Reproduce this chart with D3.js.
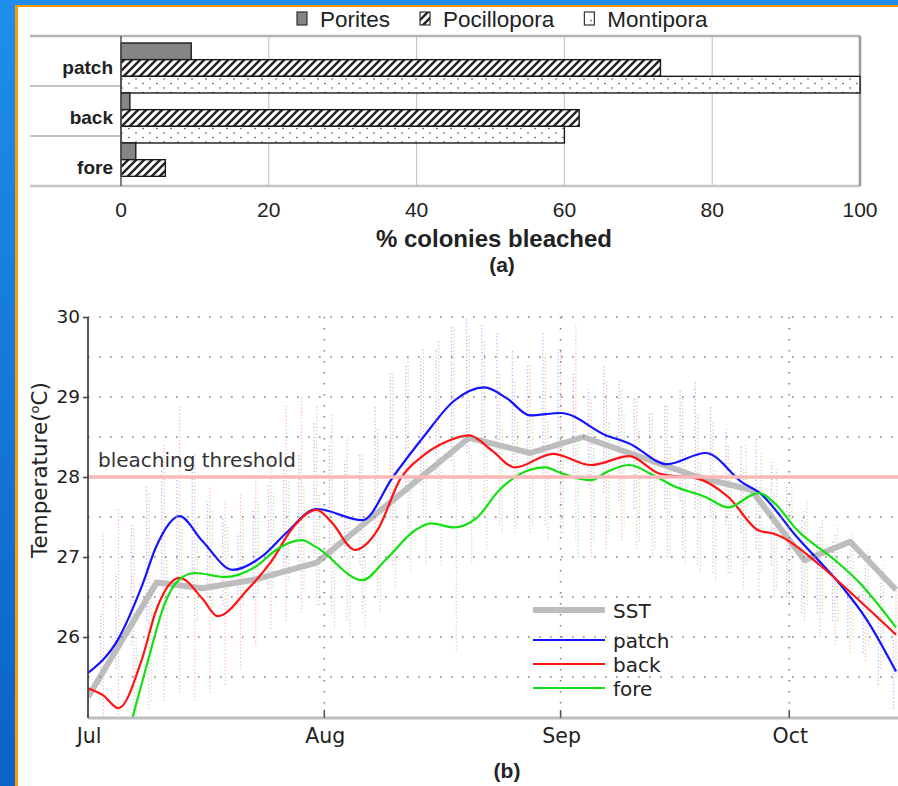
<!DOCTYPE html>
<html>
<head>
<meta charset="utf-8">
<script src="https://cdn.jsdelivr.net/npm/d3@7"></script>
<style>
  html, body { margin: 0; padding: 0; background: #fff; }
  svg { display: block; }
</style>
</head>
<body>
<svg id="fig" width="898" height="786"></svg>
<script>
// ---------- Panel (a): bleaching by reef zone ----------
const sites = ["patch", "back", "fore"];
const genera = ["Porites", "Pocillopora", "Montipora"];
const porites = [9.5, 1.2, 2];
const pocillopora = [73, 62, 6];
const montipora = [100, 60, 0];
const pctTicks = [0, 20, 40, 60, 80, 100];

// ---------- Panel (b): temperature records ----------
const monthLabels = ["Jul", "Aug", "Sep", "Oct"];
const tempTicks = [26, 27, 28, 29, 30];
const threshold = 28;

// smoothed loggers: days after 1 July, temperature (°C)
const patchDays = [0, 4, 7, 9, 12, 15, 19, 23, 26, 30, 36, 40, 44, 48, 52, 55, 58, 62, 68, 71, 76, 81, 86, 88, 93, 99, 102, 106];
const patchTemp = [25.55, 25.98, 26.62, 27.14, 27.51, 27.2, 26.84, 27.02, 27.3, 27.6, 27.46, 28.0, 28.5, 28.95, 29.12, 28.98, 28.77, 28.8, 28.52, 28.42, 28.16, 28.3, 27.92, 27.81, 27.25, 26.62, 26.24, 25.57];

const backDays = [0, 2, 4, 7, 9, 12, 15, 17, 21, 24, 27, 30, 32, 35, 38, 41, 44, 47, 50, 53, 56, 61, 66, 71, 75, 80, 84, 88, 90, 96, 100, 106];
const backTemp = [25.36, 25.27, 25.11, 25.7, 26.35, 26.74, 26.48, 26.26, 26.6, 26.94, 27.38, 27.59, 27.43, 27.09, 27.34, 27.98, 28.27, 28.44, 28.52, 28.33, 28.12, 28.29, 28.15, 28.26, 28.04, 27.98, 27.75, 27.33, 27.29, 26.9, 26.56, 26.03];

const foreDays = [4, 6, 8, 10, 12, 14, 18, 22, 25, 28, 30, 36, 39, 43, 45, 48, 51, 54, 58, 60, 62, 66, 68, 71, 74, 77, 81, 84, 87, 88, 90, 93, 98, 101, 106];
const foreTemp = [24.3, 25.05, 25.75, 26.4, 26.72, 26.8, 26.75, 26.88, 27.11, 27.21, 27.12, 26.71, 26.96, 27.34, 27.42, 27.37, 27.49, 27.84, 28.09, 28.12, 28.05, 27.96, 28.06, 28.15, 28.03, 27.88, 27.75, 27.62, 27.77, 27.8, 27.68, 27.34, 26.96, 26.7, 26.12];

// satellite SST
const sstDays = [0, 9, 15, 22, 30, 50, 58, 65, 80, 87, 94, 100, 106];
const sstTemp = [25.25, 26.68, 26.61, 26.72, 26.93, 28.49, 28.3, 28.5, 28.0, 27.84, 26.96, 27.19, 26.59];

// raw logger spread, every second day from 1 July (daily low / high)
const rawStep = 2;
const patchHi = [25.9, 26.3, 26.8, 27.4, 27.9, 28.1, 28.0, 28.1, 27.7,
                 27.5, 27.3, 27.6, 27.9, 28.1, 28.3, 28.7, 28.4, 28.2,
                 28.3, 28.9, 29.3, 29.4, 29.5, 29.6, 29.9, 30.0, 29.9,
                 29.8, 29.6, 29.4, 29.8, 29.6, 29.3, 29.1, 29.4, 29.2,
                 29.0, 28.8, 28.9, 29.1, 29.2, 28.9, 28.6, 28.4, 28.5,
                 28.2, 27.9, 27.5, 27.3, 27.2, 27.0, 26.7, 26.3, 26.0];
const patchLo = [25.2, 25.4, 25.6, 25.9, 26.2, 26.7, 26.8, 26.6, 26.5,
                 26.4, 26.4, 26.5, 26.6, 26.8, 26.9, 27.0, 27.1, 27.0,
                 26.9, 27.2, 27.5, 27.8, 27.9, 28.0, 28.2, 28.3, 28.4,
                 28.3, 28.2, 28.1, 28.0, 28.1, 28.0, 27.9, 27.8, 27.7,
                 27.6, 27.5, 27.6, 27.7, 27.6, 27.5, 27.4, 27.3, 27.1,
                 26.9, 26.5, 26.3, 26.3, 26.2, 26.0, 25.8, 25.4, 25.1];
const backHi = [26.8, 27.3, 27.6, 27.4, 27.8, 28.4, 28.9, 28.3, 27.9,
                27.7, 27.8, 28.0, 28.3, 28.9, 29.0, 28.9, 28.8, 28.5,
                28.3, 28.6, 29.3, 29.5, 29.6, 29.7, 29.9, 29.8, 29.7,
                29.3, 29.2, 29.4, 29.5, 29.6, 29.9, 29.0, 29.2, 29.1,
                29.0, 28.8, 28.9, 29.0, 28.8, 28.7, 28.4, 28.1, 27.9,
                27.8, 27.7, 27.6, 27.4, 27.3, 27.1, 26.9, 26.8, 26.6];
const backLo = [25.0, 25.0, 24.9, 25.0, 25.1, 25.2, 25.3, 25.2, 25.3,
                25.4, 25.6, 25.9, 26.1, 26.2, 26.3, 26.4, 26.3, 26.2,
                26.3, 26.5, 26.9, 27.3, 27.5, 27.6, 27.7, 27.8, 27.6,
                27.4, 27.3, 27.3, 27.4, 27.3, 27.2, 27.0, 27.1, 27.2,
                27.1, 27.0, 27.0, 27.1, 26.9, 26.8, 26.8, 26.6, 26.5,
                26.5, 26.4, 26.2, 26.0, 25.9, 25.8, 25.7, 25.6, 25.5];
const foreHi = [null, null, null, 26.0, 26.6, 27.0, 27.4, 27.5, 27.6,
                27.4, 27.5, 27.7, 27.8, 28.0, 27.9, 27.8, 27.6, 27.5,
                27.4, 27.7, 27.9, 28.0, 28.2, 28.1, 28.0, 28.3, 28.5,
                28.6, 28.7, 28.8, 28.7, 28.6, 28.5, 28.6, 28.7, 28.8,
                28.6, 28.5, 28.4, 28.3, 28.2, 28.1, 28.2, 28.4, 28.3,
                28.1, 27.9, 27.7, 27.5, 27.4, 27.3, 27.1, 26.9, 26.6];
const foreLo = [null, null, null, 25.0, 25.2, 25.8, 26.1, 26.2, 26.2,
                26.3, 26.4, 26.5, 26.6, 26.7, 26.6, 26.4, 26.1, 26.0,
                26.1, 26.3, 26.6, 26.8, 26.9, 26.9, 25.8, 26.9, 27.1,
                27.3, 27.4, 27.4, 27.2, 27.3, 27.0, 27.2, 27.3, 27.4,
                27.2, 27.1, 27.0, 26.9, 26.8, 26.7, 26.8, 26.9, 26.8,
                26.6, 26.5, 26.4, 26.3, 26.2, 26.0, 25.9, 25.7, 25.5];

// ---------- drawing ----------
const W = 898, H = 786;
const svg = d3.select("#fig");
const defs = svg.append("defs");

// slide backdrop
const bg = defs.append("linearGradient").attr("id", "bg")
  .attr("x1", 0).attr("y1", 0).attr("x2", 0).attr("y2", 1);
bg.append("stop").attr("offset", 0).attr("stop-color", "#1f8eea");
bg.append("stop").attr("offset", 1).attr("stop-color", "#0b62c7");
svg.append("rect").attr("width", W).attr("height", H).attr("fill", "url(#bg)");
svg.append("rect").attr("x", 15).attr("y", 5).attr("width", W - 15).attr("height", H - 5).attr("fill", "#ff9a00");
svg.append("rect").attr("x", 18).attr("y", 7).attr("width", W - 18).attr("height", H - 7).attr("fill", "#fff");

// fill patterns
const hatch = defs.append("pattern").attr("id", "hatch")
  .attr("patternUnits", "userSpaceOnUse").attr("width", 8).attr("height", 8);
hatch.append("rect").attr("width", 8).attr("height", 8).attr("fill", "#fff");
hatch.append("path").attr("d", "M-2,2 l4,-4 M0,8 l8,-8 M6,10 l4,-4")
  .attr("stroke", "#222").attr("stroke-width", 2.4);

const dots = defs.append("pattern").attr("id", "dots")
  .attr("patternUnits", "userSpaceOnUse").attr("width", 14).attr("height", 9);
dots.append("rect").attr("width", 14).attr("height", 9).attr("fill", "#fff");
dots.append("circle").attr("cx", 3).attr("cy", 2.5).attr("r", 0.8).attr("fill", "#444");
dots.append("circle").attr("cx", 10).attr("cy", 7).attr("r", 0.8).attr("fill", "#444");

const fills = { Porites: "#858585", Pocillopora: "url(#hatch)", Montipora: "url(#dots)" };
const values = { Porites: porites, Pocillopora: pocillopora, Montipora: montipora };

// ----- panel (a)
const fA = "Arial, 'Liberation Sans', sans-serif";
const xA = d3.scaleLinear().domain([0, 100]).range([121, 860]);
const yA = d3.scaleBand().domain(sites).range([36, 186]);
const yIn = d3.scaleBand().domain(genera).range([7, 57]);

const gA = svg.append("g");

// vertical gridlines
gA.selectAll("line.vg").data(pctTicks.filter(t => t > 0 && t < 100)).join("line")
  .attr("x1", d => xA(d)).attr("x2", d => xA(d))
  .attr("y1", 36).attr("y2", 186)
  .attr("stroke", "#c8c8c8").attr("stroke-width", 1.2);

// frame lines
gA.append("line").attr("x1", 30).attr("x2", xA(100)).attr("y1", 36).attr("y2", 36)
  .attr("stroke", "#b4b4b4").attr("stroke-width", 2.5);
gA.append("line").attr("x1", 30).attr("x2", xA(100)).attr("y1", 186).attr("y2", 186)
  .attr("stroke", "#c4c4c4").attr("stroke-width", 2.5);
gA.append("line").attr("x1", xA(100)).attr("x2", xA(100)).attr("y1", 36).attr("y2", 186)
  .attr("stroke", "#9a9a9a").attr("stroke-width", 2.5);
gA.selectAll("line.sep").data(sites.slice(1)).join("line")
  .attr("x1", 30).attr("x2", xA(0))
  .attr("y1", d => yA(d)).attr("y2", d => yA(d))
  .attr("stroke", "#c4c4c4").attr("stroke-width", 2);

// bars
sites.forEach((s, i) => {
  genera.forEach(g => {
    const v = values[g][i];
    if (v <= 0) return;
    gA.append("rect")
      .attr("x", xA(0)).attr("y", yA(s) + yIn(g))
      .attr("width", xA(v) - xA(0)).attr("height", yIn.bandwidth())
      .attr("fill", fills[g]).attr("stroke", "#1a1a1a").attr("stroke-width", 1.4);
  });
});

// zero axis
gA.append("line").attr("x1", xA(0)).attr("x2", xA(0)).attr("y1", 36).attr("y2", 186)
  .attr("stroke", "#555").attr("stroke-width", 1.5);

// category labels
gA.selectAll("text.cat").data(sites).join("text")
  .attr("x", xA(0) - 8).attr("y", d => yA(d) + yIn("Pocillopora") + yIn.bandwidth() / 2 + 6)
  .attr("text-anchor", "end").attr("font-family", fA).attr("font-weight", "bold")
  .attr("font-size", 19).attr("fill", "#222").text(d => d);

// tick labels
gA.selectAll("text.tick").data(pctTicks).join("text")
  .attr("x", d => xA(d)).attr("y", 217)
  .attr("text-anchor", "middle").attr("font-family", fA).attr("font-size", 21)
  .attr("fill", "#222").text(d => d);

gA.append("text").attr("x", 494).attr("y", 247).attr("text-anchor", "middle")
  .attr("font-family", fA).attr("font-weight", "bold").attr("font-size", 24)
  .attr("fill", "#222").text("% colonies bleached");
gA.append("text").attr("x", 502).attr("y", 272).attr("text-anchor", "middle")
  .attr("font-family", fA).attr("font-weight", "bold").attr("font-size", 21)
  .attr("fill", "#222").text("(a)");

// legend (a)
let lx = 297;
genera.forEach(g => {
  gA.append("rect").attr("x", lx).attr("y", 12).attr("width", 10).attr("height", 13)
    .attr("fill", fills[g]).attr("stroke", "#333").attr("stroke-width", 1.2);
  const t = gA.append("text").attr("x", lx + 23).attr("y", 27)
    .attr("font-family", fA).attr("font-size", 22.5).attr("fill", "#222").text(g);
  lx += 23 + t.node().getComputedTextLength() + 30;
});

// ----- panel (b)
const fB = "'DejaVu Sans', Verdana, sans-serif";
const day = d => new Date(Date.UTC(2004, 6, 1 + d));
const xB = d3.scaleUtc().domain([day(0), day(106)]).range([88, 896]);
const yB = d3.scaleLinear().domain([25, 30]).range([717, 317]);
const pLeft = 88, pRight = W, pTop = yB(30), pBottom = 718;

defs.append("clipPath").attr("id", "plotClip").append("rect")
  .attr("x", pLeft).attr("y", pTop - 3).attr("width", pRight - pLeft).attr("height", pBottom - pTop + 3);

const gB = svg.append("g");
const plot = gB.append("g").attr("clip-path", "url(#plotClip)");

// raw logger spread
const rawSets = [
  { lo: patchLo, hi: patchHi, c: "#6d6dff" },
  { lo: backLo, hi: backHi, c: "#ff6d6d" },
  { lo: foreLo, hi: foreHi, c: "#5ed65e" }
];
rawSets.forEach((r, k) => {
  const pts = r.lo.map((lo, i) => ({ d: i * rawStep, lo, hi: r.hi[i] })).filter(p => p.lo != null);
  plot.append("g").selectAll("line").data(pts).join("line")
    .attr("x1", p => xB(day(p.d)) + (k - 1) * 2.5).attr("x2", p => xB(day(p.d)) + (k - 1) * 2.5)
    .attr("y1", p => yB(p.lo)).attr("y2", p => yB(p.hi))
    .attr("stroke", r.c).attr("stroke-width", 1.3)
    .attr("stroke-dasharray", "1.2 2.2").attr("opacity", 0.5);
});

// dotted grid
const gridTemps = yB.ticks(10).filter(t => t > 25);
gB.selectAll("line.hg").data(gridTemps).join("line")
  .attr("x1", pLeft).attr("x2", pRight)
  .attr("y1", d => yB(d)).attr("y2", d => yB(d))
  .attr("stroke", "#808080").attr("stroke-width", 1.6).attr("stroke-dasharray", "1.6 9.4");
const monthDates = d3.utcMonth.range(day(0), day(106));
gB.selectAll("line.mg").data(monthDates.slice(1)).join("line")
  .attr("x1", d => xB(d)).attr("x2", d => xB(d))
  .attr("y1", pTop).attr("y2", pBottom)
  .attr("stroke", "#808080").attr("stroke-width", 1.6).attr("stroke-dasharray", "1.6 9.4");

// bleaching threshold
gB.append("line").attr("x1", pLeft).attr("x2", pRight)
  .attr("y1", yB(threshold)).attr("y2", yB(threshold))
  .attr("stroke", "#f8b8b8").attr("stroke-width", 3.5);
gB.append("text").attr("x", 98).attr("y", yB(threshold) - 10)
  .attr("font-family", fB).attr("font-size", 20).attr("fill", "#333").text("bleaching threshold");

// series
const line = d3.line().x(p => xB(day(p[0]))).y(p => yB(p[1])).curve(d3.curveMonotoneX);
const sstLine = d3.line().x(p => xB(day(p[0]))).y(p => yB(p[1]));
plot.append("path").datum(d3.zip(sstDays, sstTemp)).attr("d", sstLine)
  .attr("fill", "none").attr("stroke", "#bdbdbd").attr("stroke-width", 6).attr("stroke-linejoin", "round");
const series = [
  { name: "patch", d: patchDays, t: patchTemp, c: "#1414ff" },
  { name: "back", d: backDays, t: backTemp, c: "#ff1414" },
  { name: "fore", d: foreDays, t: foreTemp, c: "#12e012" }
];
series.forEach(s => {
  plot.append("path").datum(d3.zip(s.d, s.t)).attr("d", line)
    .attr("fill", "none").attr("stroke", s.c).attr("stroke-width", 2.2);
});

// axes
gB.append("line").attr("x1", pLeft).attr("x2", pRight).attr("y1", pBottom).attr("y2", pBottom)
  .attr("stroke", "#bdbdbd").attr("stroke-width", 3);
gB.selectAll("line.mt").data(monthDates.slice(1)).join("line")
  .attr("x1", d => xB(d)).attr("x2", d => xB(d)).attr("y1", pBottom - 8).attr("y2", pBottom)
  .attr("stroke", "#555").attr("stroke-width", 1.5);
gB.selectAll("text.mx").data(monthDates).join("text")
  .attr("x", d => xB(d) + 1).attr("y", 743).attr("text-anchor", "middle")
  .attr("font-family", fB).attr("font-size", 20.5).attr("fill", "#222")
  .text((d, i) => monthLabels[i]);

const yAxis = gB.append("g").attr("transform", `translate(${pLeft},0)`)
  .call(d3.axisLeft(yB).tickValues(tempTicks).tickSize(5).tickSizeOuter(0).tickPadding(3).tickFormat(d3.format("d")));
yAxis.select(".domain").attr("stroke", "#444").attr("stroke-width", 1.8).attr("d", `M0,${pTop}V${pBottom}`);
yAxis.selectAll(".tick line").attr("stroke", "#444").attr("stroke-width", 1.6);
yAxis.selectAll(".tick text").attr("font-family", fB).attr("font-size", 18.5).attr("fill", "#222");

const yt = gB.append("text").attr("transform", "translate(47,470) rotate(-90)")
  .attr("text-anchor", "middle").attr("font-family", fB).attr("font-size", 21.5).attr("fill", "#222");
yt.append("tspan").text("Temperature(");
yt.append("tspan").attr("font-size", 13).attr("dy", -8).text("o");
yt.append("tspan").attr("dy", 8).text("C)");

// legend (b)
const legendRows = [{ name: "SST", c: "#bdbdbd", w: 6 }]
  .concat(series.map(s => ({ name: s.name, c: s.c, w: 2.2 })));
const legRowY = [610, 640, 664, 688];
legendRows.forEach((r, i) => {
  const yy = legRowY[i];
  gB.append("line").attr("x1", 533).attr("x2", 605).attr("y1", yy).attr("y2", yy)
    .attr("stroke", r.c).attr("stroke-width", r.w);
  gB.append("text").attr("x", 613).attr("y", yy + 8)
    .attr("font-family", fB).attr("font-size", 20).attr("fill", "#222").text(r.name);
});

gB.append("text").attr("x", 507).attr("y", 778).attr("text-anchor", "middle")
  .attr("font-family", fA).attr("font-weight", "bold").attr("font-size", 21)
  .attr("fill", "#222").text("(b)");
</script>
</body>
</html>
